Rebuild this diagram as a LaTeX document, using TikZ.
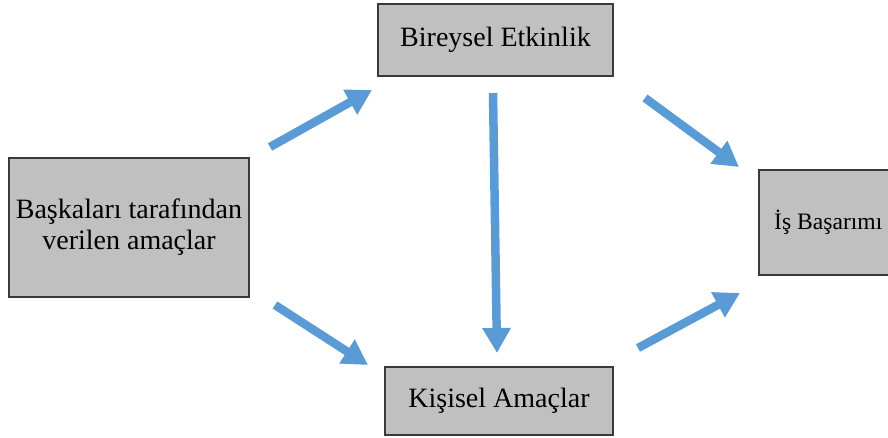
\documentclass[tikz,border=0pt]{standalone}
\usepackage{fontspec}
\setmainfont{Liberation Serif}
\usetikzlibrary{arrows.meta}
\definecolor{boxgray}{HTML}{C0C0C0}
\definecolor{boxline}{HTML}{3A3A3A}
\definecolor{flowblue}{HTML}{5B9BD5}
\tikzset{
  box/.style={draw=boxline, line width=1.5pt, fill=boxgray, inner sep=0pt,
    align=center, font=\fontsize{28}{31}\selectfont},
  flow/.style={draw=flowblue, line width=8.5pt, line cap=butt,
    -{Triangle[width=27pt,length=25pt]}}
}
\begin{document}
\begin{tikzpicture}[x=1pt,y=-1pt]
\useasboundingbox (0,0) rectangle (888,438);
\begin{scope}
\clip (0,0) rectangle (888,438);
% boxes
\node[box, minimum width=240pt, minimum height=139pt] (given) at (129,227.5)
  {Başkaları tarafından\\verilen amaçlar};
\node[box, minimum width=235pt, minimum height=72pt] (eff) at (495.5,40)
  {Bireysel Etkinlik};
\node[box, minimum width=228pt, minimum height=68pt] (pers) at (499,401)
  {Kişisel Amaçlar};
\node[box, minimum width=147pt, minimum height=105pt, anchor=west] (perf) at (758,222.5) {};
\node[font=\fontsize{23.6}{27}\selectfont, inner sep=0pt, anchor=west] (perflabel) at (774,222.5) {İş Başarımı};
% arrow end points
\coordinate (a1s) at (270,147);  \coordinate (a1e) at (372,90);
\coordinate (a2s) at (275,305);  \coordinate (a2e) at (368,365);
\coordinate (a3s) at (493,93);   \coordinate (a3e) at (497,353);
\coordinate (a4s) at (645,98);   \coordinate (a4e) at (739,167);
\coordinate (a5s) at (638,348);  \coordinate (a5e) at (740,293);
% arrows
\draw[flow] (a1s) -- (a1e);
\draw[flow] (a2s) -- (a2e);
\draw[flow] (a3s) -- (a3e);
\draw[flow] (a4s) -- (a4e);
\draw[flow] (a5s) -- (a5e);
\end{scope}
\end{tikzpicture}
\end{document}
